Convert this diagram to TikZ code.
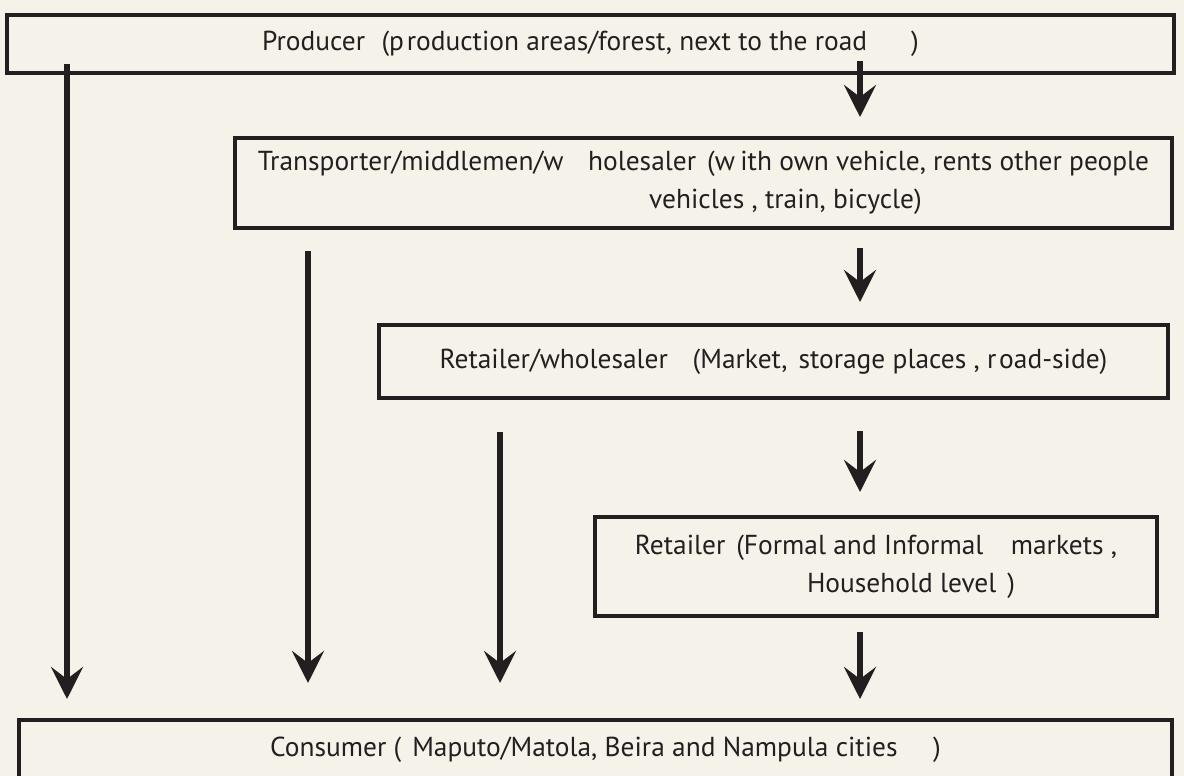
\documentclass[tikz,border=0pt]{standalone}
\usepackage{fontspec}
\setmainfont{PT Sans}
\usetikzlibrary{arrows.meta}
\definecolor{paper}{HTML}{F5F2EA}
\definecolor{ink}{HTML}{231F20}
\tikzset{
  box/.style={draw=ink, line width=2.4pt, rectangle, inner sep=0pt, text=ink, align=center},
  flow/.style={draw=ink, line width=4.6pt, -{Stealth[length=0.8cm, width=0.8cm, inset=0.3cm]}},
}
\begin{document}
\begin{tikzpicture}[x=0.025cm, y=-0.025cm, font=\fontsize{19.5}{27}\selectfont]
\fill[paper] (0,0) rectangle (1184,776);
\useasboundingbox (0,0) rectangle (1184,776);

% chain boxes
\node[box, minimum width=29.175cm, minimum height=1.45cm] (prod) at (590.5,44)
  {Producer\hspace{0.6em}(p\hspace{0.1em}roduction areas/forest, next to the road\hspace{1.6em})};
\node[box, minimum width=23.425cm, minimum height=2.25cm] (trans) at (703.5,183)
  {Transporter/middlemen/w\hspace{0.9em}holesaler\hspace{0.4em}(w\hspace{0.2em}ith own vehicle, rents other people\\
   \hspace{4.1cm}vehicles , train, bicycle)};
\node[box, minimum width=19.725cm, minimum height=1.825cm] (rw) at (773.5,361.5)
  {Retailer/wholesaler\hspace{0.9em}(Market,\hspace{0.4em}storage places , r\hspace{0.1em}oad-side)};
\node[box, minimum width=14.05cm, minimum height=2.475cm] (ret) at (876,566.5)
  {Retailer\hspace{0.4em}(Formal and Informal\hspace{1em}markets ,\\
   \hspace{1.75cm}Household level\hspace{0.4em})};
\node[box, minimum width=28.825cm, minimum height=1.5cm] (cons) at (595.5,750)
  {\hspace{0.5cm}Consumer (\hspace{0.4em}Maputo/Matola, Beira and Nampula cities\hspace{1.3em})};

% arrow ends
\coordinate (p1) at (860,61);   \coordinate (t1) at (860,117);
\coordinate (p2) at (860,248);  \coordinate (t2) at (860,302);
\coordinate (p3) at (860,431);  \coordinate (t3) at (860,492);
\coordinate (p4) at (860,632);  \coordinate (t4) at (860,699);
\coordinate (q1) at (67,64);    \coordinate (u1) at (67,699);
\coordinate (q2) at (308,251);  \coordinate (u2) at (308,683);
\coordinate (q3) at (500,432);  \coordinate (u3) at (500,683);

\draw[flow] (p1) -- (t1);
\draw[flow] (p2) -- (t2);
\draw[flow] (p3) -- (t3);
\draw[flow] (p4) -- (t4);
\draw[flow] (q1) -- (u1);
\draw[flow] (q2) -- (u2);
\draw[flow] (q3) -- (u3);
\end{tikzpicture}
\end{document}
